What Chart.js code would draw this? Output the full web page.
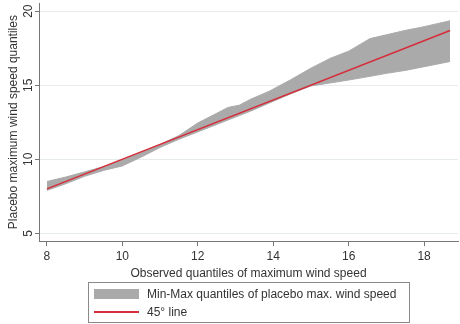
<!DOCTYPE html>
<html>
<head>
<meta charset="utf-8">
<script src="https://cdn.jsdelivr.net/npm/chart.js@4.4.1/dist/chart.umd.min.js"></script>
<style>
    body { margin: 0; background: #fff; }
    #wrap { position: relative; width: 460px; height: 324px; }
    #legend {
        position: absolute; left: 88px; top: 282px; width: 322px; height: 41px;
        border: 1px solid #8a8a8a; box-sizing: border-box;
        font: 12px "Liberation Sans", Arial, sans-serif; color: #333;
    }
    #legend .sw { position: absolute; left: 5px; top: 6px; width: 45px; height: 10px; background: #aaaaaa; }
    #legend .ln { position: absolute; left: 5px; top: 28px; width: 45px; height: 1.5px; background: #d62d3a; }
    #legend .t1 { position: absolute; left: 58px; top: 3px; line-height: 16px; }
    #legend .t2 { position: absolute; left: 58px; top: 21px; line-height: 16px; }
</style>
</head>
<body>
<div id="wrap">
    <canvas id="chart" width="460" height="324"></canvas>
    <div id="legend">
        <div class="sw"></div><div class="t1">Min-Max quantiles of placebo max. wind speed</div>
        <div class="ln"></div><div class="t2">45° line</div>
    </div>
</div>
<script>
// observed quantiles (x) and min / max of placebo quantiles at each one
const observedQ = [8, 8.5, 9, 9.5, 10, 10.5, 11, 11.5, 12, 12.5, 12.8, 13.1, 13.4, 13.9, 14.45, 15, 15.5, 16, 16.57, 17, 17.5, 18, 18.69];
const placeboMax = [8.5, 8.8, 9.15, 9.5, 9.95, 10.45, 11.0, 11.6, 12.45, 13.1, 13.5, 13.65, 14.05, 14.6, 15.35, 16.15, 16.8, 17.3, 18.15, 18.4, 18.7, 18.95, 19.35];
const placeboMin = [7.9, 8.35, 8.85, 9.25, 9.55, 10.15, 10.8, 11.35, 11.85, 12.35, 12.65, 12.95, 13.25, 13.8, 14.4, 14.95, 15.15, 15.35, 15.6, 15.8, 16.0, 16.25, 16.6];
const diagonal = [8, 18.69];
const xTicks = [8, 10, 12, 14, 16, 18];
const yTicks = [5, 10, 15, 20];

const font = { family: '"Liberation Sans", Arial, sans-serif', size: 12 };
const textColor = '#333';
const axisColor = '#777';

function pts(xs, ys) {
    return xs.map((x, i) => ({ x: x, y: ys[i] }));
}

// y tick labels are drawn rotated, like the original
const rotatedYLabels = {
    id: 'rotatedYLabels',
    afterDraw(chart) {
        const s = chart.scales.y;
        const ctx = chart.ctx;
        ctx.save();
        ctx.font = '12px "Liberation Sans", Arial, sans-serif';
        ctx.fillStyle = textColor;
        ctx.textAlign = 'center';
        ctx.textBaseline = 'middle';
        s.ticks.forEach(t => {
            ctx.save();
            ctx.translate(29, s.getPixelForValue(t.value));
            ctx.rotate(-Math.PI / 2);
            ctx.fillText(String(t.value), 0, 0);
            ctx.restore();
        });
        ctx.restore();
    }
};

new Chart(document.getElementById('chart'), {
    type: 'line',
    data: {
        datasets: [{
            label: '45° line',
            data: pts(diagonal, diagonal),
            borderColor: '#d62d3a',
            borderWidth: 1.5,
            pointRadius: 0,
            fill: false,
            order: 0
        }, {
            label: 'min',
            data: pts(observedQ, placeboMin),
            borderColor: '#aaaaaa',
            borderWidth: 1,
            pointRadius: 0,
            fill: false,
            order: 1
        }, {
            label: 'Min-Max quantiles of placebo max. wind speed',
            data: pts(observedQ, placeboMax),
            borderColor: '#aaaaaa',
            backgroundColor: '#aaaaaa',
            borderWidth: 1,
            pointRadius: 0,
            fill: '-1',
            order: 1
        }]
    },
    options: {
        responsive: false,
        devicePixelRatio: 1,
        animation: false,
        layout: { padding: { top: 3, right: 2, left: 0, bottom: 43 } },
        plugins: {
            legend: { display: false },
            tooltip: { enabled: false }
        },
        scales: {
            x: {
                type: 'linear',
                min: 7.79,
                max: 18.9,
                afterBuildTicks: s => { s.ticks = xTicks.map(v => ({ value: v })); },
                border: { color: axisColor },
                grid: { drawOnChartArea: false, tickColor: axisColor, tickLength: 5 },
                ticks: { font: font, color: textColor, padding: 3, maxRotation: 0 },
                title: {
                    display: true,
                    text: 'Observed quantiles of maximum wind speed',
                    font: font, color: textColor,
                    padding: { top: 0, bottom: 0 }
                }
            },
            y: {
                type: 'linear',
                min: 4.47,
                max: 20.55,
                afterBuildTicks: s => { s.ticks = yTicks.map(v => ({ value: v })); },
                afterFit: s => { s.width = 39; },
                border: { color: axisColor },
                grid: { color: '#e6ecee', tickColor: axisColor, tickLength: 4 },
                ticks: { display: false },
                title: {
                    display: true,
                    text: 'Placebo maximum wind speed quantiles',
                    font: font, color: textColor,
                    padding: { top: 6, bottom: 0 }
                }
            }
        }
    },
    plugins: [rotatedYLabels]
});
</script>
</body>
</html>
